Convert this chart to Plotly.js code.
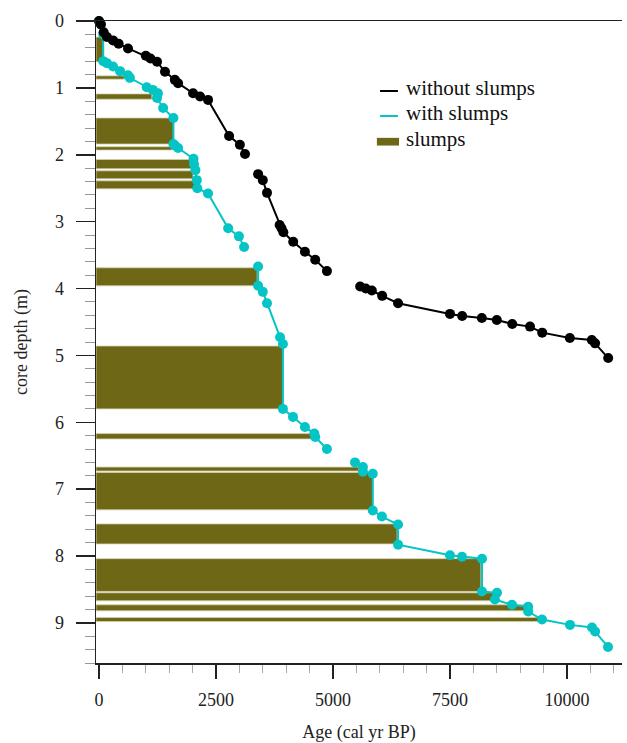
<!DOCTYPE html>
<html>
<head>
<meta charset="utf-8">
<script src="https://cdn.plot.ly/plotly-3.0.1.min.js"></script>
<style>html,body{margin:0;padding:0;background:#fff}#chart{width:627px;height:743px}</style>
</head>
<body>
<div id="chart"></div>
<script>
// Age-depth model without slumps (black); null = break in the line
const noSlumpAge   = [0, 40, 100, 170, 300, 420, 620, 1000, 1100, 1240, 1410, 1620, 1690, 2010, 2160, 2330, 2780, 3010, 3120, null,
                      3400, 3500, 3590, 3860, 3900, 3940, 4150, 4400, 4620, 4870, null,
                      5580, 5700, 5830, 6050, 6390, 7500, 7760, 8180, 8500, 8830, 9210, 9470, 10060, 10530, 10600, 10880];
const noSlumpDepth = [0, 0.05, 0.17, 0.24, 0.29, 0.34, 0.41, 0.52, 0.56, 0.61, 0.76, 0.88, 0.93, 1.08, 1.13, 1.18, 1.72, 1.85, 1.99, null,
                      2.29, 2.38, 2.57, 3.05, 3.10, 3.16, 3.30, 3.45, 3.57, 3.74, null,
                      3.97, 4.00, 4.03, 4.11, 4.22, 4.38, 4.41, 4.44, 4.47, 4.53, 4.57, 4.66, 4.74, 4.77, 4.82, 5.04];

// Age-depth model with slumps (cyan)
const slumpAge   = [0, 40, 90, 90, 170, 300, 450, 620, 660, 1020, 1150, 1260, 1240, 1370, 1590, 1590, 1620, 1690, 2020, 2030, 2060, 2090, 2100, 2330, 2760, 2990, 3100, null,
                    3400, 3400, 3500, 3590, 3870, 3930, 3930, 4145, 4400, 4600, 4620, 4870, null,
                    5470, 5640, 5640, 5850, 5850, 6045, 6390, 6390, 7500, 7756, 8184, 8184, 8504, 8460, 8825, 9170, 9170, 9466, 10064, 10534, 10600, 10876];
const slumpDepth = [0, 0.05, 0.20, 0.60, 0.63, 0.68, 0.75, 0.81, 0.85, 0.99, 1.03, 1.08, 1.15, 1.30, 1.45, 1.84, 1.86, 1.90, 2.06, 2.14, 2.23, 2.38, 2.50, 2.58, 3.10, 3.22, 3.38, null,
                    3.67, 3.96, 4.05, 4.22, 4.73, 4.83, 5.80, 5.92, 6.07, 6.17, 6.22, 6.40, null,
                    6.60, 6.67, 6.74, 6.77, 7.32, 7.41, 7.53, 7.83, 7.99, 8.01, 8.04, 8.53, 8.55, 8.65, 8.73, 8.76, 8.83, 8.95, 9.03, 9.07, 9.13, 9.36];

// Slump layers: top depth, bottom depth (m), age reached (cal yr BP)
const slumpTop    = [0.24, 0.82, 1.09, 1.45, 1.88, 2.07, 2.24, 2.39, 3.69, 4.86, 6.17, 6.67, 6.75, 7.52, 8.04, 8.55, 8.73, 8.92];
const slumpBottom = [0.61, 0.87, 1.17, 1.84, 1.93, 2.21, 2.36, 2.51, 3.96, 5.80, 6.25, 6.73, 7.31, 7.82, 8.53, 8.67, 8.82, 8.98];
const slumpEndAge = [90, 540, 1130, 1590, 1560, 1990, 2010, 2090, 3380, 3930, 4550, 5550, 5850, 6370, 8160, 8430, 9140, 9400];

const xTickVals = [0, 2500, 5000, 7500, 10000];
const yTickVals = [0, 1, 2, 3, 4, 5, 6, 7, 8, 9];

const legendLabels = ['without slumps', 'with slumps', 'slumps'];

const X_RANGE = [-64, 11175];
const Y_RANGE = [9.6, 0];
const OLIVE = '#6e6715';
const CYAN = '#05c4c6';
const FONT = 'Liberation Serif, Times New Roman, serif';

const slumpTrace = {
  type: 'bar', orientation: 'h',
  y: slumpTop.map((t, i) => (t + slumpBottom[i]) / 2),
  width: slumpTop.map((t, i) => slumpBottom[i] - t),
  x: slumpEndAge.map(a => a - X_RANGE[0]),
  base: X_RANGE[0],
  marker: {color: OLIVE, line: {color: '#d6d2b0', width: 0.8}},
  hoverinfo: 'skip', showlegend: false
};

const cyanTrace = {
  type: 'scatter', mode: 'lines+markers',
  x: slumpAge, y: slumpDepth, connectgaps: false,
  line: {color: CYAN, width: 2},
  marker: {color: CYAN, size: 10},
  showlegend: false, cliponaxis: false
};

const blackTrace = {
  type: 'scatter', mode: 'lines+markers',
  x: noSlumpAge, y: noSlumpDepth, connectgaps: false,
  line: {color: '#000', width: 2},
  marker: {color: '#000', size: 10},
  showlegend: false, cliponaxis: false
};

// custom legend (paper coordinates)
const lgX0 = 0.540, lgX1 = 0.574, lgText = 0.586;
const lgY = [0.891, 0.852, 0.812];
const shapes = [
  {type: 'line', xref: 'paper', yref: 'paper', x0: lgX0, x1: lgX1, y0: lgY[0], y1: lgY[0], line: {color: '#000', width: 2}},
  {type: 'line', xref: 'paper', yref: 'paper', x0: lgX0, x1: lgX1, y0: lgY[1], y1: lgY[1], line: {color: CYAN, width: 2}},
  {type: 'rect', xref: 'paper', yref: 'paper', x0: 0.534, x1: 0.576, y0: lgY[2] - 0.006, y1: lgY[2] + 0.006, fillcolor: OLIVE, line: {width: 0}}
];
const annotations = legendLabels.map((t, i) => ({
  xref: 'paper', yref: 'paper', x: lgText, y: lgY[i] + 0.004, xanchor: 'left', yanchor: 'middle',
  text: t, showarrow: false, font: {family: FONT, size: 21, color: '#111'}
}));

const layout = {
  width: 627, height: 743,
  margin: {l: 96, r: 5, t: 21, b: 80},
  paper_bgcolor: '#fff', plot_bgcolor: '#fff',
  barmode: 'overlay', bargap: 0,
  font: {family: FONT, size: 18, color: '#222'},
  xaxis: {
    range: X_RANGE, tickvals: xTickVals, ticktext: xTickVals.map(String),
    showgrid: false, zeroline: false,
    showline: true, linecolor: '#222', linewidth: 1.5, mirror: true,
    ticks: 'outside', ticklen: 14, tickwidth: 1.5, tickcolor: '#222',
    ticklabelstandoff: 6,
    minor: {dtick: 500, tick0: 0, ticks: 'outside', ticklen: 8, tickcolor: '#aaa', tickwidth: 1, showgrid: false},
    tickfont: {family: FONT, size: 18, color: '#222'},
    title: {text: 'Age (cal yr BP)', font: {family: FONT, size: 18, color: '#222'}, standoff: 19},
    automargin: false
  },
  yaxis: {
    range: Y_RANGE, tickvals: yTickVals, ticktext: yTickVals.map(String),
    showgrid: false, zeroline: false,
    showline: true, linecolor: '#222', linewidth: 1.5,
    ticks: 'outside', ticklen: 19, tickwidth: 1.5, tickcolor: '#222',
    ticklabelstandoff: 8,
    minor: {dtick: 0.2, tick0: 0, ticks: 'outside', ticklen: 10, tickcolor: '#999', tickwidth: 1, showgrid: false},
    tickfont: {family: FONT, size: 18, color: '#222'},
    title: {text: 'core depth (m)', font: {family: FONT, size: 18, color: '#222'}, standoff: 22},
    automargin: false
  },
  shapes: shapes,
  annotations: annotations,
  showlegend: false
};

Plotly.newPlot('chart', [slumpTrace, cyanTrace, blackTrace], layout, {displayModeBar: false, staticPlot: true});
</script>
</body>
</html>
